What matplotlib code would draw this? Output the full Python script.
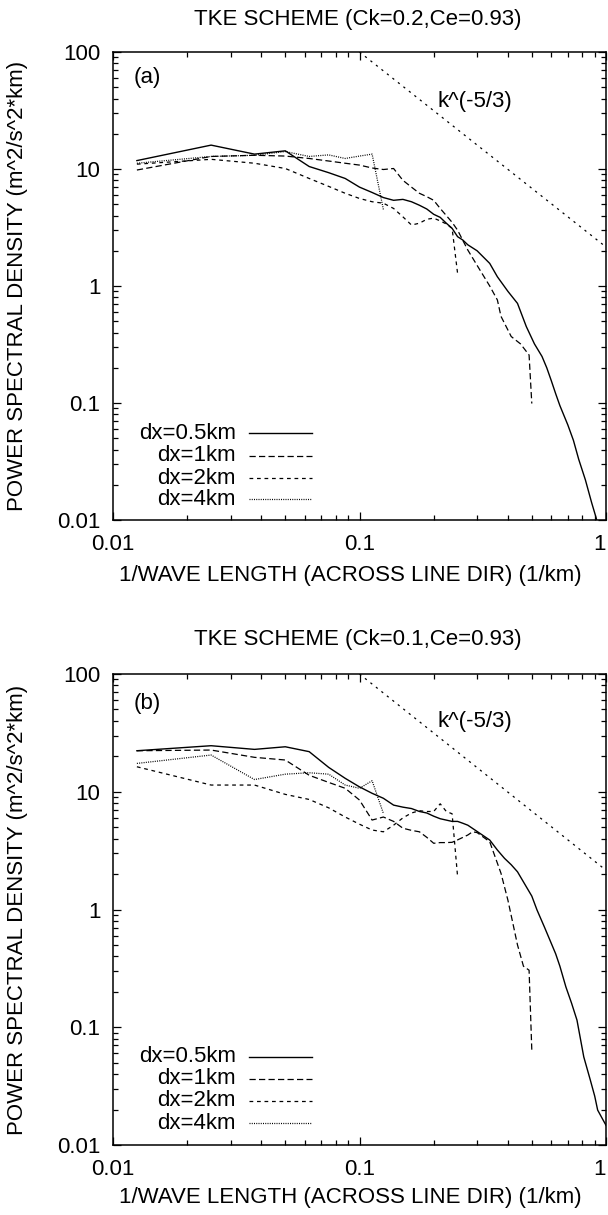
import matplotlib
matplotlib.use("Agg")
import matplotlib.pyplot as plt
from matplotlib.lines import Line2D
from matplotlib.ticker import FixedLocator, FixedFormatter, LogLocator, NullFormatter

plt.rcParams['font.family'] = ['Liberation Sans', 'DejaVu Sans']

W, H = 608, 1215

# ---------------- data: panel (a) ----------------
a_k_05 = [0.0125, 0.025, 0.0375, 0.05, 0.0625, 0.075, 0.0875, 0.1, 0.1125, 0.125,
          0.1375, 0.15, 0.1625, 0.175, 0.1875, 0.2, 0.2125, 0.225, 0.2375, 0.25,
          0.2625, 0.275, 0.3, 0.3375, 0.3625, 0.4, 0.4375, 0.475, 0.5125, 0.55,
          0.575, 0.6, 0.625, 0.65, 0.7, 0.7375, 0.775, 0.825, 0.875, 0.9125, 0.95, 1.0]
a_p_05 = [11.8, 16.0, 13.4, 14.3, 10.5, 9.3, 8.3, 7.0, 6.3, 5.7,
          5.4, 5.5, 5.25, 4.9, 4.55, 4.1, 3.86, 3.44, 3.11, 2.64,
          2.47, 2.25, 2.0, 1.56, 1.20, 0.90, 0.71, 0.45, 0.32, 0.25,
          0.20, 0.155, 0.12, 0.095, 0.065, 0.048, 0.033, 0.022, 0.014, 0.0104, 0.007, 0.004]

a_k_1 = [0.0125, 0.025, 0.0375, 0.05, 0.0625, 0.075, 0.0875, 0.1, 0.1125, 0.125,
         0.1375, 0.15, 0.1625, 0.175, 0.1875, 0.2, 0.2125, 0.225, 0.2375, 0.25,
         0.275, 0.3, 0.3375, 0.3625, 0.375, 0.4125, 0.45, 0.4875, 0.5]
a_p_1 = [9.8, 12.8, 13.1, 12.9, 12.3, 11.7, 11.2, 10.8, 10.2, 9.9,
         10.1, 8.0, 7.0, 6.2, 5.8, 5.4, 4.6, 4.0, 3.5, 3.0,
         2.03, 1.5, 1.0, 0.76, 0.55, 0.37, 0.32, 0.257, 0.099]

a_k_2 = [0.0125, 0.025, 0.0375, 0.05, 0.0625, 0.075, 0.0875, 0.1, 0.1125, 0.125,
         0.1375, 0.15, 0.1625, 0.175, 0.1875, 0.2, 0.2125, 0.225, 0.2375, 0.25]
a_p_2 = [11.0, 12.1, 11.2, 10.1, 8.3, 7.1, 6.2, 5.6, 5.25, 5.1,
         4.6, 3.9, 3.32, 3.44, 3.72, 3.8, 3.6, 3.39, 3.11, 1.28]

a_k_4 = [0.0125, 0.025, 0.0375, 0.05, 0.0625, 0.075, 0.0875, 0.1, 0.1125, 0.125]
a_p_4 = [11.2, 12.8, 13.1, 14.1, 12.8, 13.2, 12.3, 12.9, 13.4, 4.5]

# ---------------- data: panel (b) ----------------
b_k_05 = [0.0125, 0.025, 0.0375, 0.05, 0.0625, 0.075, 0.0875, 0.1, 0.1125, 0.125,
          0.1375, 0.15, 0.1625, 0.175, 0.1875, 0.2, 0.2125,
          0.2375, 0.25, 0.2625, 0.275, 0.3, 0.3375, 0.3625, 0.3875, 0.4125, 0.4375,
          0.475, 0.5, 0.525, 0.5625, 0.6, 0.625, 0.65, 0.6875, 0.725, 0.7625,
          0.8125, 0.8625, 0.9, 0.925, 0.9625, 1.0]
b_p_05 = [22.3, 24.6, 22.9, 24.1, 21.9, 16.1, 13.0, 11.0, 9.7, 8.8,
          7.7, 7.4, 7.2, 6.8, 6.6, 6.2, 5.9,
          5.6, 5.6, 5.4, 5.2, 4.6, 3.89, 3.2, 2.72, 2.4, 2.09,
          1.56, 1.3, 0.99, 0.71, 0.515, 0.42, 0.33, 0.22, 0.16, 0.115,
          0.056, 0.036, 0.026, 0.0198, 0.017, 0.0147]

b_k_1 = [0.0125, 0.025, 0.0375, 0.05, 0.0625, 0.075, 0.0875, 0.1, 0.1125, 0.125,
         0.1375, 0.15, 0.1625, 0.175, 0.1875, 0.2, 0.2125, 0.225, 0.2375, 0.25,
         0.275, 0.2875, 0.3, 0.3375, 0.375, 0.4, 0.4375, 0.4625, 0.4875, 0.5]
b_p_1 = [22.3, 22.6, 19.6, 18.6, 13.8, 12.0, 10.7, 8.5, 5.75, 6.1,
         5.6, 4.9, 4.7, 4.57, 4.1, 3.65, 3.7, 3.7, 3.72, 3.9,
         4.29, 4.57, 4.5, 3.76, 2.03, 1.20, 0.5, 0.33, 0.305, 0.064]

b_k_2 = [0.0125, 0.025, 0.0375, 0.05, 0.0625, 0.075, 0.0875, 0.1, 0.1125, 0.125,
         0.1375, 0.15, 0.1625, 0.175, 0.1875, 0.2, 0.2125, 0.225, 0.2375, 0.25]
b_p_2 = [16.3, 11.4, 11.4, 9.5, 8.6, 7.3, 6.1, 5.3, 4.73, 4.57,
         5.2, 6.0, 6.6, 6.9, 6.8, 6.8, 7.9, 6.8, 6.5, 1.9]

b_k_4 = [0.0125, 0.025, 0.0375, 0.05, 0.0625, 0.075, 0.0875, 0.1, 0.1125, 0.125]
b_p_4 = [17.4, 20.5, 12.7, 14.1, 14.5, 14.1, 11.4, 10.7, 12.4, 6.55]

# reference slope line k^(-5/3)
ref_k = [0.1, 1.0]
ref_p = [100.0, 100.0 * (1.0 / 0.1) ** (-5.0 / 3.0)]

labels = ['dx=0.5km', 'dx=1km', 'dx=2km', 'dx=4km']
titles = ['TKE SCHEME (Ck=0.2,Ce=0.93)', 'TKE SCHEME (Ck=0.1,Ce=0.93)']
panel_tags = ['(a)', '(b)']
xticks = [0.01, 0.1, 1]
xticklabels = ['0.01', '0.1', '1']
yticks = [0.01, 0.1, 1, 10, 100]
yticklabels = ['0.01', '0.1', '1', '10', '100']
xlabel = '1/WAVE LENGTH (ACROSS LINE DIR) (1/km)'
ylabel = 'POWER SPECTRAL DENSITY (m^2/s^2*km)'

styles = [
    dict(linestyle='-', linewidth=1.0),
    dict(linestyle=(0, (5.0, 2.6)), linewidth=0.9),
    dict(linestyle=(0, (3.0, 3.0)), linewidth=0.9),
    dict(linestyle=(0, (0.8, 1.0)), linewidth=0.9),
]
ref_style = dict(linestyle=(0, (1.8, 3.8)), linewidth=0.9)

FS = 16


def fx(px):
    return px / W


def fy(py):
    return 1 - py / H


fig = plt.figure(figsize=(W / 100, H / 100), dpi=100)

panels = [
    dict(top=52, bottom=520, data=[(a_k_05, a_p_05), (a_k_1, a_p_1), (a_k_2, a_p_2), (a_k_4, a_p_4)],
         title_y=19, xlabel_y=576, leg_rows=[433.3, 455.7, 478.3, 499.3], tag_y=77, ref_y=101),
    dict(top=674, bottom=1145, data=[(b_k_05, b_p_05), (b_k_1, b_p_1), (b_k_2, b_p_2), (b_k_4, b_p_4)],
         title_y=640, xlabel_y=1198, leg_rows=[1056.7, 1079, 1101, 1123.3], tag_y=704, ref_y=722),
]

left_px, right_px = 113, 606

for i, pn in enumerate(panels):
    ax = fig.add_axes([fx(left_px), fy(pn['bottom']), (right_px - left_px) / W,
                       (pn['bottom'] - pn['top']) / H])
    for (k, p), st in zip(pn['data'], styles):
        ax.plot(k, p, color='black', **st)
    ax.plot(ref_k, ref_p, color='black', **ref_style)
    ax.set_xscale('log')
    ax.set_yscale('log')
    ax.set_xlim(0.01, 1)
    ax.set_ylim(0.01, 100)
    ax.xaxis.set_major_locator(FixedLocator(xticks))
    ax.xaxis.set_major_formatter(FixedFormatter(xticklabels))
    ax.yaxis.set_major_locator(FixedLocator(yticks))
    ax.yaxis.set_major_formatter(FixedFormatter(yticklabels))
    ax.xaxis.set_minor_locator(LogLocator(base=10, subs=range(2, 10)))
    ax.yaxis.set_minor_locator(LogLocator(base=10, subs=range(2, 10)))
    ax.xaxis.set_minor_formatter(NullFormatter())
    ax.yaxis.set_minor_formatter(NullFormatter())
    ax.tick_params(which='both', direction='in', top=True, right=True, width=0.9, colors='black')
    ax.tick_params(which='major', length=5.8, labelsize=FS)
    ax.tick_params(which='minor', length=3.6)
    ax.tick_params(axis='x', which='major', pad=10)
    ax.tick_params(axis='y', which='major', pad=9)
    for s in ax.spines.values():
        s.set_linewidth(1.1)
    # keep the right-most tick label inside the image
    fig.canvas.draw()
    xtl = ax.get_xticklabels()
    xtl[-1].set_horizontalalignment('right')
    xtl[-1].set_x(1.0)

    fig.text(fx(358), fy(pn['title_y']), titles[i], ha='center', va='center', fontsize=FS)
    fig.text(fx(350), fy(pn['xlabel_y']), xlabel, ha='center', va='center', fontsize=FS)
    fig.text(fx(18), fy((pn['top'] + pn['bottom']) / 2), ylabel, ha='center', va='center',
             rotation=90, fontsize=FS)
    fig.text(fx(147), fy(pn['tag_y']), panel_tags[i], ha='center', va='center', fontsize=FS)
    fig.text(fx(475), fy(pn['ref_y']), 'k^(-5/3)', ha='center', va='center', fontsize=FS)

    for lab, st, ry in zip(labels, styles, pn['leg_rows']):
        fig.text(fx(236), fy(ry), lab, ha='right', va='center', fontsize=FS)
        fig.add_artist(Line2D([fx(249), fx(312)], [fy(ry), fy(ry)], color='black',
                              transform=fig.transFigure, **st))

fig.savefig('out.png', dpi=100)
